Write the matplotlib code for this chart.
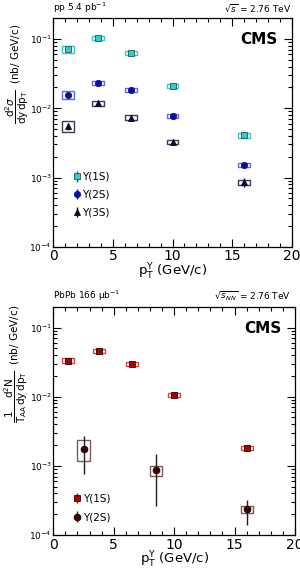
import matplotlib
matplotlib.use("Agg")
import matplotlib.pyplot as plt
from matplotlib.patches import Rectangle
from matplotlib.ticker import MultipleLocator, LogLocator, NullFormatter

# data
pt = [1.25, 3.75, 6.5, 10, 16]

pp_1s = [0.0716, 0.105, 0.0626, 0.021, 0.00406]
pp_2s = [0.0157, 0.023, 0.0184, 0.0077, 0.00151]
pp_3s = [0.0055, 0.0118, 0.0073, 0.00328, 0.00085]
pp_1s_sys = [0.12, 0.07, 0.07, 0.07, 0.07]
pp_2s_sys = [0.13, 0.07, 0.07, 0.07, 0.07]
pp_3s_sys = [0.18, 0.08, 0.08, 0.08, 0.08]
pp_1s_stat = [0.02, 0.02, 0.02, 0.03, 0.04]
pp_2s_stat = [0.04, 0.04, 0.04, 0.05, 0.07]
pp_3s_stat = [0.12, 0.07, 0.09, 0.1, 0.14]

pb_1s = [0.0332, 0.0463, 0.0297, 0.0105, 0.00182]
pb_1s_sys = [0.08, 0.07, 0.07, 0.07, 0.07]
pb_1s_stat = [0.04, 0.04, 0.05, 0.06, 0.1]

pt_2s = [2.5, 8.5, 16]
pb_2s = [0.00178, 0.000875, 0.000236]
pb_2s_up = [0.00092, 0.000605, 0.000087]
pb_2s_dn = [0.00101, 0.000609, 0.000096]
pb_2s_box_lo = [0.00117, 0.000718, 0.000210]
pb_2s_box_hi = [0.00237, 0.00100, 0.000259]

box_hw = 0.5


def boxes(ax, x, lo, hi, color):
    for xi, l, h in zip(x, lo, hi):
        ax.add_patch(Rectangle((xi - box_hw, l), 2 * box_hw, h - l,
                               fill=False, edgecolor=color, lw=1.0, zorder=2))


def style(ax, cms_x):
    ax.set_yscale('log')
    ax.set_xlim(0, 20)
    ax.set_ylim(1e-4, 0.2)
    ax.xaxis.set_major_locator(MultipleLocator(5))
    ax.xaxis.set_minor_locator(MultipleLocator(1))
    ax.yaxis.set_major_locator(LogLocator(base=10, numticks=10))
    ax.yaxis.set_minor_locator(LogLocator(base=10, subs=range(2, 10), numticks=50))
    ax.yaxis.set_minor_formatter(NullFormatter())
    ax.tick_params(which='both', direction='in', top=True, right=True, width=0.8)
    ax.tick_params(which='major', length=6)
    ax.tick_params(which='minor', length=3)
    ax.tick_params(axis='x', labelsize=10, pad=2)
    ax.tick_params(axis='y', labelsize=6.5, pad=1)
    for s in ax.spines.values():
        s.set_linewidth(0.9)
    ax.set_xlabel(r'p$_{\mathrm{T}}^{\Upsilon}$ (GeV/c)', fontsize=9.5, labelpad=-1)
    ax.text(cms_x, 0.906, 'CMS', transform=ax.transAxes, ha='right', va='center',
            fontsize=11, fontweight='bold')


fig = plt.figure(figsize=(3.0, 5.69), dpi=100)
W, H = 300.0, 569.0

# top panel (pp)
ax1 = fig.add_axes([53.3 / W, 1 - 246.7 / H, 238.4 / W, 228.4 / H])
style(ax1, 0.94)

series = [
    (pp_1s, pp_1s_sys, pp_1s_stat, 's', '#3cc8c8', '#1a5a5a', '#3cc8c8', 'Υ(1S)'),
    (pp_2s, pp_2s_sys, pp_2s_stat, 'o', '#0c0ca8', '#0c0ca8', '#6a6ad0', 'Υ(2S)'),
    (pp_3s, pp_3s_sys, pp_3s_stat, '^', '#0a0a2a', '#0a0a2a', '#3a3a5a', 'Υ(3S)'),
]
handles = []
for y, sys_, stat, m, fc, ec, bc, lab in series:
    boxes(ax1, pt, [v * (1 - s) for v, s in zip(y, sys_)],
          [v * (1 + s) for v, s in zip(y, sys_)], bc)
    err = [v * s for v, s in zip(y, stat)]
    h = ax1.errorbar(pt, y, yerr=err, fmt=m, ms=4.5, mfc=fc, mec=ec, mew=0.6,
                     ecolor=ec, elinewidth=1.0, capsize=0, zorder=3, label=lab)
    handles.append(h)
ax1.legend(handles=handles, loc='upper left', bbox_to_anchor=(0.065, 0.35),
           frameon=False, fontsize=7.5, handlelength=0.5, handletextpad=0.3,
           labelspacing=0.75, borderpad=0)
fig.text(53 / W, 1 - 8 / H, r'pp 5.4 pb$^{-1}$', fontsize=6.5, ha='left', va='center')
fig.text(291 / W, 1 - 8 / H, r'$\sqrt{s}$ = 2.76 TeV', fontsize=6.5, ha='right', va='center')
fig.text(17 / W, 1 - 24 / H,
         r'$\dfrac{\mathrm{d}^2\sigma}{\mathrm{dy\,dp_T}}$  (nb/ GeV/c)',
         rotation=90, fontsize=7.5, ha='center', va='top')

# bottom panel (PbPb)
ax2 = fig.add_axes([53.3 / W, 1 - 535 / H, 241.7 / W, 228.3 / H])
style(ax2, 0.945)
boxes(ax2, pt, [v * (1 - s) for v, s in zip(pb_1s, pb_1s_sys)],
      [v * (1 + s) for v, s in zip(pb_1s, pb_1s_sys)], '#d04848')
h1 = ax2.errorbar(pt, pb_1s, yerr=[v * s for v, s in zip(pb_1s, pb_1s_stat)],
                  fmt='s', ms=4.5, mfc='#b00000', mec='#300000', mew=0.6,
                  ecolor='#b00000', elinewidth=1.0, capsize=0, zorder=3, label='Υ(1S)')
boxes(ax2, pt_2s, pb_2s_box_lo, pb_2s_box_hi, '#7a5a5a')
h2 = ax2.errorbar(pt_2s, pb_2s, yerr=[pb_2s_dn, pb_2s_up], fmt='o', ms=4.5,
                  mfc='#300808', mec='#300808', ecolor='#202020', elinewidth=1.0,
                  capsize=0, zorder=3, label='Υ(2S)')
ax2.legend(handles=[h1, h2], loc='upper left', bbox_to_anchor=(0.065, 0.205),
           frameon=False, fontsize=7.5, handlelength=0.5, handletextpad=0.3,
           labelspacing=0.85, borderpad=0)
fig.text(53 / W, 1 - 296 / H, 'PbPb 166 µb$^{-1}$', fontsize=6.5, ha='left', va='center')
fig.text(291 / W, 1 - 296 / H, r'$\sqrt{s_{NN}}$ = 2.76 TeV', fontsize=6.5, ha='right', va='center')
fig.text(16 / W, 1 - 305 / H,
         r'$\dfrac{1}{\mathrm{T_{AA}}}\dfrac{\mathrm{d}^2\mathrm{N}}{\mathrm{dy\,dp_T}}$  (nb/ GeV/c)',
         rotation=90, fontsize=7.5, ha='center', va='top')

fig.savefig('out.png', dpi=100)
